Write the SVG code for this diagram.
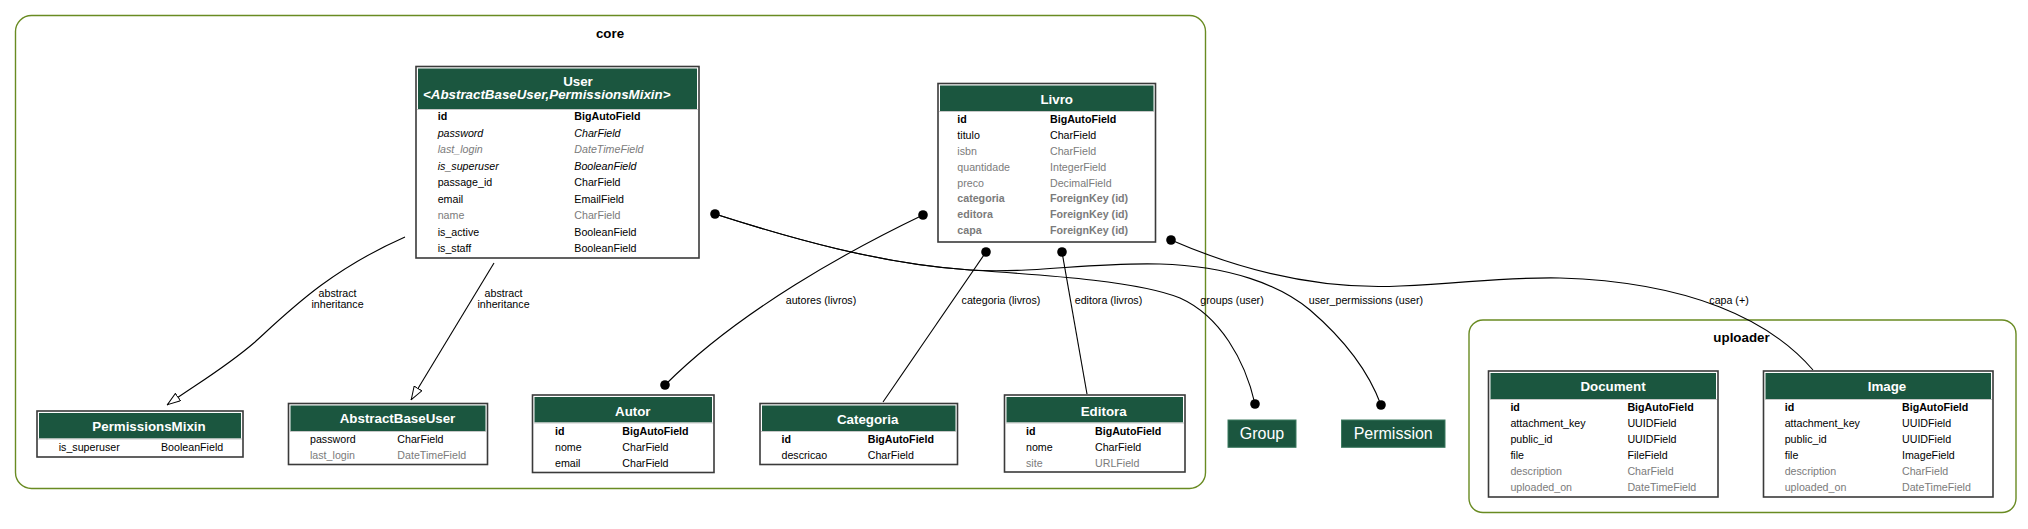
<svg xmlns="http://www.w3.org/2000/svg" width="2028" height="529" viewBox="0 0 2028 529">
<style>
.cl{fill:none;stroke:#698b22;stroke-width:1.4}
.clt{font-family:"Liberation Sans",Arial,sans-serif;font-size:13.33px;font-weight:bold;fill:#000;text-anchor:middle}
.box{fill:#fff;stroke:#3a3a3a;stroke-width:1.6}
.hd{fill:#1b563f}
.sep{stroke:#c8c8c8;stroke-width:1}
.ht{font-family:"Liberation Sans",Arial,sans-serif;font-size:13.33px;font-weight:bold;fill:#fff;text-anchor:middle}
.f{font-family:"Liberation Sans",Arial,sans-serif;font-size:10.67px;fill:#000}
.b{font-weight:bold}
.i{font-style:italic}
.g{fill:#7b7b7b}
.e{fill:none;stroke:#000;stroke-width:1.1}
.el{font-family:"Liberation Sans",Arial,sans-serif;font-size:10.67px;fill:#000;text-anchor:middle}
.dot{fill:#000}
.ext{fill:#1b563f;stroke:#3d7a60;stroke-width:1}
.ext-t{font-family:"Liberation Sans",Arial,sans-serif;font-size:16px;fill:#fff;text-anchor:middle}
</style>
<defs>
<marker id="inh" viewBox="0 0 14 10" refX="14" refY="5" markerWidth="14" markerHeight="10" markerUnits="userSpaceOnUse" orient="auto">
<path d="M0.5,0.5 L13.5,5 L0.5,9.5 Z" fill="#fff" stroke="#000" stroke-width="1"/>
</marker>
</defs>
<rect width="2028" height="529" fill="#fff"/>

<g id="cluster-core">
<rect class="cl" x="15.5" y="15.5" width="1190" height="473" rx="16" ry="16"/>
<text class="clt" x="610" y="38">core</text>
</g>
<g id="cluster-uploader">
<rect class="cl" x="1469" y="320" width="547" height="192.5" rx="14" ry="14"/>
<text class="clt" x="1741.5" y="342">uploader</text>
</g>

<g id="connectors">
<path class="e" d="M405,237 C330,270 290,310 255,342 C225,368 195,385 167,405" marker-end="url(#inh)"/>
<text class="el" x="337.5" y="297">abstract</text>
<text class="el" x="337.5" y="308">inheritance</text>
<path class="e" d="M494,263 L411,400" marker-end="url(#inh)"/>
<text class="el" x="503.5" y="297">abstract</text>
<text class="el" x="503.5" y="308">inheritance</text>

<path class="e" d="M715,214 C790,238 880,264 970,270 C1060,276 1140,282 1180,298 C1220,316 1245,360 1255,404"/>
<path class="e" d="M715,214 C790,238 880,264 970,270 C1030,274 1090,262 1160,264 C1230,266 1280,285 1310,310 C1345,340 1368,370 1381,405"/>
<text class="el" x="1232" y="304">groups (user)</text>
<text class="el" x="1366" y="304">user_permissions (user)</text>

<path class="e" d="M923,215 C850,250 740,310 665,385"/>
<text class="el" x="821" y="304">autores (livros)</text>
<path class="e" d="M986,252 L883,402"/>
<text class="el" x="1001" y="304">categoria (livros)</text>
<path class="e" d="M1062,252 L1087,394"/>
<text class="el" x="1108.5" y="304">editora (livros)</text>

<path class="e" d="M1171,240 C1240,270 1320,290 1400,286 C1470,283 1500,277 1560,278 C1690,282 1770,320 1813,370"/>
<text class="el" x="1729" y="304">capa (+)</text>

<circle class="dot" cx="715" cy="214" r="4.8"/>
<circle class="dot" cx="1255" cy="404" r="4.8"/>
<circle class="dot" cx="1381" cy="405" r="4.8"/>
<circle class="dot" cx="923" cy="215" r="4.8"/>
<circle class="dot" cx="665" cy="385" r="4.8"/>
<circle class="dot" cx="986" cy="252" r="4.8"/>
<circle class="dot" cx="1062" cy="252" r="4.8"/>
<circle class="dot" cx="1171" cy="240" r="4.8"/>
</g>

<g id="node-user">
<rect class="box" x="416" y="66.5" width="283" height="191.5"/>
<rect class="hd" x="418" y="68.5" width="279" height="40.5"/>
<line class="sep" x1="417" y1="109.5" x2="698" y2="109.5"/>
<text class="ht" x="578" y="86">User</text>
<text class="ht i" x="423" y="98.5" style="text-anchor:start">&lt;AbstractBaseUser,PermissionsMixin&gt;</text>
<text class="f b" x="437.7" y="120">id</text><text class="f b" x="574.3" y="120">BigAutoField</text>
<text class="f i" x="437.7" y="136.5">password</text><text class="f i" x="574.3" y="136.5">CharField</text>
<text class="f i g" x="437.7" y="153">last_login</text><text class="f i g" x="574.3" y="153">DateTimeField</text>
<text class="f i" x="437.7" y="169.5">is_superuser</text><text class="f i" x="574.3" y="169.5">BooleanField</text>
<text class="f" x="437.7" y="186">passage_id</text><text class="f" x="574.3" y="186">CharField</text>
<text class="f" x="437.7" y="202.5">email</text><text class="f" x="574.3" y="202.5">EmailField</text>
<text class="f g" x="437.7" y="219">name</text><text class="f g" x="574.3" y="219">CharField</text>
<text class="f" x="437.7" y="235.5">is_active</text><text class="f" x="574.3" y="235.5">BooleanField</text>
<text class="f" x="437.7" y="252">is_staff</text><text class="f" x="574.3" y="252">BooleanField</text>
</g>

<g id="node-livro">
<rect class="box" x="938" y="83.5" width="217.5" height="158.5"/>
<rect class="hd" x="940" y="85.5" width="213.5" height="25.5"/>
<line class="sep" x1="939" y1="111.5" x2="1154.5" y2="111.5"/>
<text class="ht" x="1056.7" y="103.5">Livro</text>
<text class="f b" x="957.3" y="123.3">id</text><text class="f b" x="1050" y="123.3">BigAutoField</text>
<text class="f" x="957.3" y="139.1">titulo</text><text class="f" x="1050" y="139.1">CharField</text>
<text class="f g" x="957.3" y="154.9">isbn</text><text class="f g" x="1050" y="154.9">CharField</text>
<text class="f g" x="957.3" y="170.7">quantidade</text><text class="f g" x="1050" y="170.7">IntegerField</text>
<text class="f g" x="957.3" y="186.5">preco</text><text class="f g" x="1050" y="186.5">DecimalField</text>
<text class="f b g" x="957.3" y="202.3">categoria</text><text class="f b g" x="1050" y="202.3">ForeignKey (id)</text>
<text class="f b g" x="957.3" y="218.1">editora</text><text class="f b g" x="1050" y="218.1">ForeignKey (id)</text>
<text class="f b g" x="957.3" y="233.9">capa</text><text class="f b g" x="1050" y="233.9">ForeignKey (id)</text>
</g>

<g id="node-permissionsmixin">
<rect class="box" x="37" y="411" width="206" height="46"/>
<rect class="hd" x="39" y="413" width="202" height="25.5"/>
<line class="sep" x1="38" y1="439" x2="242" y2="439"/>
<text class="ht" x="149" y="430.8">PermissionsMixin</text>
<text class="f" x="58.7" y="451.2">is_superuser</text><text class="f" x="161" y="451.2">BooleanField</text>
</g>

<g id="node-abstractbaseuser">
<rect class="box" x="288.5" y="403.5" width="199" height="61"/>
<rect class="hd" x="290.5" y="405.5" width="195" height="25.5"/>
<line class="sep" x1="289.5" y1="431.5" x2="486.5" y2="431.5"/>
<text class="ht" x="397.5" y="423">AbstractBaseUser</text>
<text class="f" x="310" y="442.8">password</text><text class="f" x="397.3" y="442.8">CharField</text>
<text class="f g" x="310" y="458.8">last_login</text><text class="f g" x="397.3" y="458.8">DateTimeField</text>
</g>

<g id="node-autor">
<rect class="box" x="532.5" y="395" width="181.5" height="77.5"/>
<rect class="hd" x="534.5" y="397" width="177.5" height="25.5"/>
<line class="sep" x1="533.5" y1="423" x2="713" y2="423"/>
<text class="ht" x="632.8" y="415.8">Autor</text>
<text class="f b" x="555" y="434.8">id</text><text class="f b" x="622.3" y="434.8">BigAutoField</text>
<text class="f" x="555" y="450.8">nome</text><text class="f" x="622.3" y="450.8">CharField</text>
<text class="f" x="555" y="466.8">email</text><text class="f" x="622.3" y="466.8">CharField</text>
</g>

<g id="node-categoria">
<rect class="box" x="760" y="403.5" width="197.5" height="61"/>
<rect class="hd" x="762" y="405.5" width="193.5" height="25.5"/>
<line class="sep" x1="761" y1="431.5" x2="956.5" y2="431.5"/>
<text class="ht" x="867.7" y="424">Categoria</text>
<text class="f b" x="781.5" y="443.3">id</text><text class="f b" x="867.7" y="443.3">BigAutoField</text>
<text class="f" x="781.5" y="459">descricao</text><text class="f" x="867.7" y="459">CharField</text>
</g>

<g id="node-editora">
<rect class="box" x="1004.5" y="395" width="180.5" height="77"/>
<rect class="hd" x="1006.5" y="397" width="176.5" height="25.5"/>
<line class="sep" x1="1005.5" y1="423" x2="1184" y2="423"/>
<text class="ht" x="1103.7" y="415.8">Editora</text>
<text class="f b" x="1026" y="434.8">id</text><text class="f b" x="1095" y="434.8">BigAutoField</text>
<text class="f" x="1026" y="450.8">nome</text><text class="f" x="1095" y="450.8">CharField</text>
<text class="f g" x="1026" y="466.8">site</text><text class="f g" x="1095" y="466.8">URLField</text>
</g>

<g id="node-group">
<rect class="ext" x="1228" y="420" width="68" height="27.3"/>
<text class="ext-t" x="1262" y="439">Group</text>
</g>

<g id="node-permission">
<rect class="ext" x="1341.5" y="420" width="103.5" height="27.3"/>
<text class="ext-t" x="1393.2" y="439">Permission</text>
</g>

<g id="node-document">
<rect class="box" x="1488.5" y="371" width="229.5" height="126"/>
<rect class="hd" x="1490.5" y="373" width="225.5" height="26"/>
<line class="sep" x1="1489.5" y1="399.5" x2="1717" y2="399.5"/>
<text class="ht" x="1613" y="390.8">Document</text>
<text class="f b" x="1510.4" y="410.8">id</text><text class="f b" x="1627.4" y="410.8">BigAutoField</text>
<text class="f" x="1510.4" y="426.8">attachment_key</text><text class="f" x="1627.4" y="426.8">UUIDField</text>
<text class="f" x="1510.4" y="442.8">public_id</text><text class="f" x="1627.4" y="442.8">UUIDField</text>
<text class="f" x="1510.4" y="458.8">file</text><text class="f" x="1627.4" y="458.8">FileField</text>
<text class="f g" x="1510.4" y="474.8">description</text><text class="f g" x="1627.4" y="474.8">CharField</text>
<text class="f g" x="1510.4" y="490.8">uploaded_on</text><text class="f g" x="1627.4" y="490.8">DateTimeField</text>
</g>

<g id="node-image">
<rect class="box" x="1763.5" y="371" width="229.5" height="126"/>
<rect class="hd" x="1765.5" y="373" width="225.5" height="26"/>
<line class="sep" x1="1764.5" y1="399.5" x2="1992" y2="399.5"/>
<text class="ht" x="1887" y="390.8">Image</text>
<text class="f b" x="1784.7" y="410.8">id</text><text class="f b" x="1902" y="410.8">BigAutoField</text>
<text class="f" x="1784.7" y="426.8">attachment_key</text><text class="f" x="1902" y="426.8">UUIDField</text>
<text class="f" x="1784.7" y="442.8">public_id</text><text class="f" x="1902" y="442.8">UUIDField</text>
<text class="f" x="1784.7" y="458.8">file</text><text class="f" x="1902" y="458.8">ImageField</text>
<text class="f g" x="1784.7" y="474.8">description</text><text class="f g" x="1902" y="474.8">CharField</text>
<text class="f g" x="1784.7" y="490.8">uploaded_on</text><text class="f g" x="1902" y="490.8">DateTimeField</text>
</g>
</svg>
